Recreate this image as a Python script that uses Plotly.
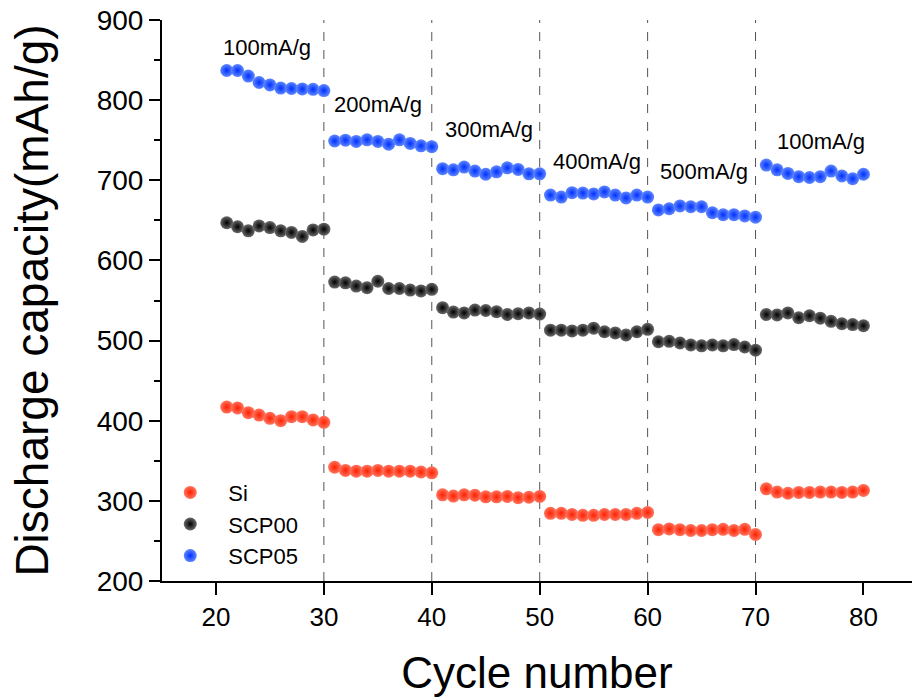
import plotly.graph_objects as go

cycles = list(range(21, 81))

si = [417, 416, 410, 407, 403, 400, 405, 405, 401, 398,
      342, 338, 337, 337, 338, 337, 337, 337, 336, 335,
      307.5, 306, 307.5, 307, 305, 305, 305.5, 304, 304.5, 305.5,
      284.5, 284.5, 283, 282, 282, 283, 283, 283, 284.5, 285.5,
      264, 265, 264, 263, 263, 264, 264.5, 263, 264.5, 258,
      315, 311, 309.5, 310.5, 310.5, 311, 311, 310.5, 311, 313]

scp00 = [647, 642, 637, 643, 641, 637, 635, 630, 638, 639,
         573, 572, 568, 566, 574, 565, 565, 563, 562, 564,
         541, 535.5, 534.5, 538, 537.5, 536, 532.5, 533.5, 534.5, 533,
         513, 513, 512, 513, 515.5, 511, 509.5, 507, 511, 514,
         498.5, 499, 497, 494.5, 493.5, 494.5, 493.5, 495, 492, 488,
         532.5, 532, 534.5, 528.5, 531, 528, 524, 521, 520, 518.5]

scp05 = [837, 837, 830, 822, 819, 815, 814.5, 814, 813.5, 812,
         749, 750, 748.5, 750.5, 748.5, 745, 750.5, 746, 743, 742,
         714.5, 713, 716.5, 711.5, 707.5, 710.5, 715.5, 713.5, 708, 708,
         681.5, 679, 684.5, 684, 683, 685.5, 681.5, 678, 681.5, 679,
         663, 664.5, 668, 667, 667, 659.5, 657, 657, 655.5, 654,
         719, 713, 708.5, 704.5, 703.5, 704.5, 711.5, 705.5, 702, 707.5]

series_names = ["Si", "SCP00", "SCP05"]
series_values = [si, scp00, scp05]
center_colors = ["#ff7560", "#6a6a6a", "#6088ff"]
edge_colors = ["#ff2000", "#000000", "#0030ff"]

rate_labels = ["100mA/g", "200mA/g", "300mA/g", "400mA/g", "500mA/g", "100mA/g"]
label_x = [24.7, 35.0, 45.3, 55.3, 65.2, 76.1]
label_y = [866, 795, 763, 723, 710.5, 749]
boundaries = [30, 40, 50, 60, 70]

x_ticks = [20, 30, 40, 50, 60, 70, 80]
y_ticks = [200, 300, 400, 500, 600, 700, 800, 900]

fig = go.Figure()
for name, vals, cc, ec in zip(series_names, series_values, center_colors, edge_colors):
    fig.add_trace(go.Scatter(
        x=cycles, y=vals, mode="markers", name=name,
        marker=dict(size=13, color=cc, line=dict(width=0),
                    gradient=dict(type="radial", color=ec)),
    ))

for b in boundaries:
    fig.add_shape(type="line", xref="x", yref="paper", x0=b, x1=b, y0=0, y1=1,
                  line=dict(color="#555555", width=1, dash="dash"), layer="below")

for t, lx, ly in zip(rate_labels, label_x, label_y):
    fig.add_annotation(x=lx, y=ly, xref="x", yref="y", text=t, showarrow=False,
                       font=dict(size=22, color="black", family="Liberation Sans, Arial"))

fig.update_layout(
    width=914, height=700,
    margin=dict(l=162, r=2, t=20, b=119),
    paper_bgcolor="white", plot_bgcolor="white",
    font=dict(family="Liberation Sans, Arial", color="black"),
    showlegend=True,
    legend=dict(x=-0.013, y=0.195, xanchor="left", yanchor="top",
                font=dict(size=22), bgcolor="rgba(0,0,0,0)", tracegroupgap=0,
                itemwidth=66),
    xaxis=dict(range=[15, 84.5], tickvals=x_ticks, ticks="outside", ticklen=12,
               tickwidth=2, tickcolor="black", showline=True, linewidth=2,
               linecolor="black", showgrid=False, zeroline=False,
               tickfont=dict(size=26),
               title=dict(text="Cycle number", font=dict(size=44), standoff=26)),
    yaxis=dict(range=[200, 900], tickvals=y_ticks, ticks="outside", ticklen=11,
               tickwidth=2, tickcolor="black", showline=True, linewidth=2,
               linecolor="black", showgrid=False, zeroline=False,
               tickfont=dict(size=28),
               minor=dict(ticks="outside", ticklen=6, tickwidth=2, tickcolor="black",
                          dtick=50, showgrid=False),
               title=dict(text="Discharge capacity(mAh/g)", font=dict(size=46), standoff=34)),
)

fig.write_html("out.html")
